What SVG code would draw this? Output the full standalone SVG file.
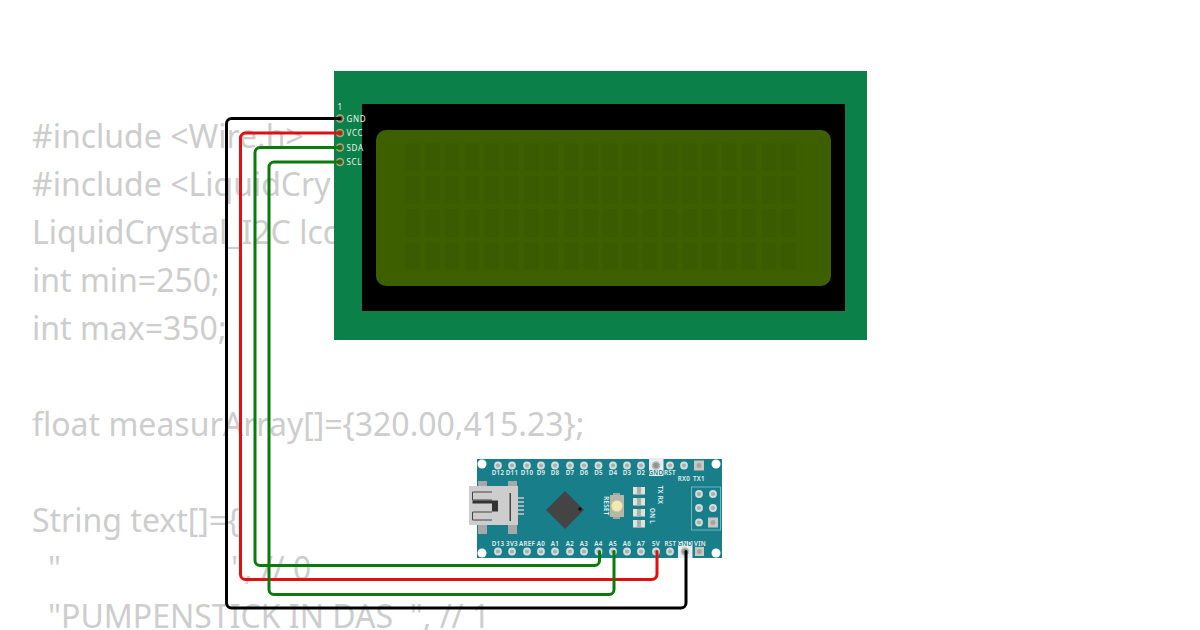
<svg xmlns="http://www.w3.org/2000/svg" width="1200" height="630" viewBox="0 0 1200 630">
<style>
.code{font-family:"Noto Sans",sans-serif;font-size:32px;fill:#cdcdcd;white-space:pre}
.lb{font-family:"Noto Sans","DejaVu Sans",sans-serif;font-size:8px;fill:#f2f2f2;letter-spacing:.7px}
.nl{font-family:"Noto Sans","DejaVu Sans",sans-serif;font-size:6.200px;fill:#e8f0f0;font-weight:600;text-anchor:middle;letter-spacing:.3px}
.dk{fill:#187f8a}
.hole{fill:#a9aeae;stroke:#d2dddd;stroke-width:1.800}
.ph{fill:#5a5a30;stroke:#b4a67c;stroke-width:1.500}
.pad{fill:#c9c7c2}
.led{fill:#e2e2dc}
.ledc{fill:#a8b0ae}
.w{fill:none;stroke-width:3;stroke-linejoin:round;stroke-linecap:round}
</style>
<defs>
<pattern id="cells" x="405" y="143" width="19.8" height="33" patternUnits="userSpaceOnUse"><rect width="15" height="28" fill="#3a5b00"/></pattern>
</defs>
<g id="code">
<text class="code" x="32" y="148">#include &lt;Wire.h&gt;</text>
<text class="code" x="32" y="196">#include &lt;LiquidCry</text>
<text class="code" x="32" y="244">LiquidCrystal_I2C lcd</text>
<text class="code" x="32" y="292">int min=250;</text>
<text class="code" x="32" y="340">int max=350;</text>
<text class="code" x="32" y="436">float measurArray[]={320.00,415.23};</text>
<text class="code" x="32" y="532">String text[]={</text>
<text class="code" x="48" y="580">"<tspan x="231">", // 0</tspan></text>
<text class="code" x="48" y="628">"PUMPENSTICK IN DAS  ", // 1</text>
</g>
<g id="lcd">
<rect x="334" y="71" width="533" height="269" fill="#0b8048"/>
<rect x="362" y="104" width="483" height="207" fill="#000"/>
<rect x="376" y="130" width="455" height="156" rx="10" fill="#3e5f00"/>
<rect x="405" y="143" width="397" height="131" fill="url(#cells)"/>
<text class="lb" x="337.500" y="110">1</text>
<text class="lb" x="346.500" y="121.500">GND</text>
<text class="lb" x="346.500" y="136">VCC</text>
<text class="lb" x="346.500" y="150.500">SDA</text>
<text class="lb" x="346.500" y="165">SCL</text>
<circle class="ph" cx="340" cy="118.500" r="3.500"/>
<circle class="ph" cx="340" cy="133" r="3.500"/>
<circle class="ph" cx="340" cy="147.500" r="3.500"/>
<circle class="ph" cx="340" cy="162" r="3.500"/>
</g>
<g id="nano">
<rect x="477" y="459" width="245" height="99" fill="#187f8a"/>
<circle cx="482" cy="464" r="4.500" fill="#fff"/><circle cx="482" cy="553" r="4.500" fill="#fff"/>
<circle cx="716" cy="464" r="4.500" fill="#fff"/><circle cx="716" cy="553" r="4.500" fill="#fff"/>
<rect x="649" y="458" width="14.500" height="18" fill="#e8eeee"/>
<rect x="678" y="541" width="14.500" height="17" fill="#e8eeee"/>
<g id="top-pins">
<circle class="hole" cx="498" cy="465.500" r="3"/><circle class="hole" cx="512" cy="465.500" r="3"/><circle class="hole" cx="527" cy="465.500" r="3"/><circle class="hole" cx="541" cy="465.500" r="3"/><circle class="hole" cx="555" cy="465.500" r="3"/><circle class="hole" cx="570" cy="465.500" r="3"/><circle class="hole" cx="584" cy="465.500" r="3"/><circle class="hole" cx="598.500" cy="465.500" r="3"/><circle class="hole" cx="613" cy="465.500" r="3"/><circle class="hole" cx="627" cy="465.500" r="3"/><circle class="hole" cx="641" cy="465.500" r="3"/><circle cx="656" cy="465.500" r="3.500" fill="#8f9494" stroke="#b5b8b8" stroke-width="1.500"/><circle class="hole" cx="670" cy="465.500" r="3"/><circle class="hole" cx="684" cy="465.500" r="3"/>
<rect class="pad" x="694" y="460.500" width="10" height="10"/><circle cx="699" cy="465.500" r="2.500" fill="#a5a5a0"/>
</g>
<g id="bottom-pins">
<circle class="hole" cx="498" cy="551.500" r="3"/><circle class="hole" cx="512" cy="551.500" r="3"/><circle class="hole" cx="527" cy="551.500" r="3"/><circle class="hole" cx="541" cy="551.500" r="3"/><circle class="hole" cx="555" cy="551.500" r="3"/><circle class="hole" cx="570" cy="551.500" r="3"/><circle class="hole" cx="584" cy="551.500" r="3"/><circle class="hole" cx="598.500" cy="551.500" r="3"/><circle class="hole" cx="613" cy="551.500" r="3"/><circle class="hole" cx="627" cy="551.500" r="3"/><circle class="hole" cx="641" cy="551.500" r="3"/><circle class="hole" cx="656" cy="551.500" r="3"/><circle class="hole" cx="670" cy="551.500" r="3"/><circle cx="685" cy="551.500" r="3.500" fill="#8f9494" stroke="#b5b8b8" stroke-width="1.500"/><rect class="pad" x="695" y="547" width="9" height="9"/><circle cx="699.500" cy="551.500" r="2.500" fill="#a5a5a0"/>
</g>
<g id="nano-labels">
<text class="nl" x="498" y="475">D12</text><text class="nl" x="512" y="475">D11</text><text class="nl" x="527" y="475">D10</text><text class="nl" x="541" y="475">D9</text><text class="nl" x="555" y="475">D8</text><text class="nl" x="570" y="475">D7</text><text class="nl" x="584" y="475">D6</text><text class="nl" x="598.500" y="475">D5</text><text class="nl" x="613" y="475">D4</text><text class="nl" x="627" y="475">D3</text><text class="nl" x="641" y="475">D2</text><text class="nl" x="656" y="475" style="fill:#187f8a">GND</text><text class="nl" x="670" y="475">RST</text><text class="nl" x="684" y="481">RX0</text><text class="nl" x="699" y="481">TX1</text>
<text class="nl" x="498" y="546">D13</text><text class="nl" x="512" y="546">3V3</text><text class="nl" x="527" y="546">AREF</text><text class="nl" x="541" y="546">A0</text><text class="nl" x="555" y="546">A1</text><text class="nl" x="570" y="546">A2</text><text class="nl" x="584" y="546">A3</text><text class="nl" x="598.500" y="546">A4</text><text class="nl" x="613" y="546">A5</text><text class="nl" x="627" y="546">A6</text><text class="nl" x="641" y="546">A7</text><text class="nl" x="656" y="546">5V</text><text class="nl" x="670.500" y="546">RST</text><text class="nl" x="685" y="546" style="fill:#187f8a">GND</text><text class="nl" x="700" y="546">VIN</text>
<text class="nl" transform="translate(603.500 506) rotate(90)">RESET</text>
<text class="nl" transform="translate(658 495) rotate(90)">TX RX</text>
<text class="nl" transform="translate(650 516) rotate(90)">ON L</text>
</g>
<g id="usb">
<rect x="478" y="481" width="9" height="6" fill="#a8a8a8"/><rect x="478" y="524" width="9" height="10" fill="#a8a8a8"/>
<rect x="508" y="481" width="9" height="6" fill="#a8a8a8"/><rect x="508" y="524" width="9" height="10" fill="#a8a8a8"/>
<rect x="469" y="486" width="49" height="39" fill="#cdcdcd"/>
<rect x="518" y="497" width="6" height="2" fill="#a8b4b4"/><rect x="518" y="501" width="6" height="2" fill="#a8b4b4"/><rect x="518" y="505" width="6" height="2" fill="#a8b4b4"/><rect x="518" y="509" width="6" height="2" fill="#a8b4b4"/><rect x="518" y="513" width="6" height="2" fill="#a8b4b4"/>
<path d="M492 492H472.500V500H492M492 512H472.500V520H492" fill="none" stroke="#444" stroke-width="1"/>
<path d="M472.500 500.500H498V511.500H492V503.500H472.500z" fill="#333"/>
<rect x="509.500" y="493" width="1.500" height="28" fill="#444"/>
</g>
<g id="mcu">
<path d="M565 491l19 19-19 19-19-19z" fill="#444"/>
<circle cx="580" cy="509" r="1.800" fill="#111"/>
</g>
<g id="reset">
<rect x="613" y="493" width="7" height="26" fill="#a4a8a4"/>
<rect x="610" y="495" width="14" height="22" fill="#b8b6a8"/>
<circle cx="617" cy="506" r="5.500" fill="#f2e8b4"/>
</g>
<g id="leds">
<rect class="led" x="633" y="487" width="12" height="7.500"/><rect class="ledc" x="637" y="487" width="4" height="7.500"/>
<rect class="led" x="633" y="498" width="12" height="7.500"/><rect class="ledc" x="637" y="498" width="4" height="7.500"/>
<rect class="led" x="633" y="509" width="12" height="7.500"/><rect class="ledc" x="637" y="509" width="4" height="7.500"/>
<rect class="led" x="633" y="520" width="12" height="7.500"/><rect class="ledc" x="637" y="520" width="4" height="7.500"/>
</g>
<g id="icsp">
<rect x="691.500" y="487" width="29" height="43" fill="none" stroke="#6fb4bf" stroke-width="1"/>
<circle class="hole" cx="699" cy="494" r="3"/><circle class="hole" cx="713" cy="494" r="3"/><circle class="hole" cx="699" cy="508" r="3"/><circle class="hole" cx="713" cy="508" r="3"/><circle class="hole" cx="699" cy="522.500" r="3"/>
<rect class="pad" x="708" y="517.500" width="10" height="10"/><circle cx="713" cy="522.500" r="2.500" fill="#a5a5a0"/>
</g>
</g>
<g id="connectors">
<path class="w" stroke="#000" d="M340 118.500H231.500a5 5 0 0 0-5 5V603a5 5 0 0 0 5 5H681a5 5 0 0 0 5-5V551.500"/>
<path class="w" stroke="#e01010" d="M340 133H245.500a5 5 0 0 0-5 5V574.500a5 5 0 0 0 5 5H652a5 5 0 0 0 5-5V551.500"/>
<path class="w" stroke="#0a7a0a" d="M340 147.500H260a5 5 0 0 0-5 5V560.500a5 5 0 0 0 5 5H594.500a5 5 0 0 0 5-5V551.500"/>
<path class="w" stroke="#0a7a0a" d="M340 162H274a5 5 0 0 0-5 5V589.500a5 5 0 0 0 5 5H609a5 5 0 0 0 5-5V551.500"/>
</g>
</svg>
